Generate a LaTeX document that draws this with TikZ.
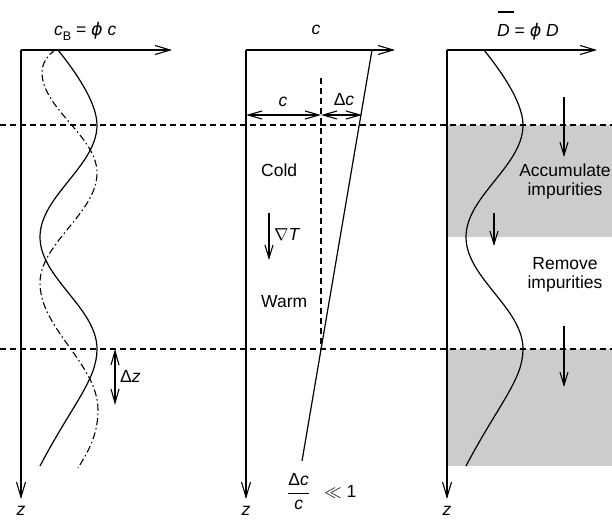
\documentclass[tikz,border=0pt]{standalone}
\usepackage{fontspec}
\setmainfont{Liberation Sans}
\newfontfamily\dvfont{DejaVu Sans}
\usetikzlibrary{arrows.meta}
\definecolor{grayfill}{RGB}{204,204,204}
\newcommand{\myphi}{{\dvfont\itshape ϕ}}
\begin{document}
\begin{tikzpicture}[x=1pt,y=-1pt,
  font=\fontsize{17.5}{19}\selectfont,
  axis/.style={line width=1.3pt,-{Straight Barb[length=15pt,width=9pt,line width=1.1pt]}},
  arr/.style={line width=1.2pt,-{Straight Barb[length=13pt,width=8pt,line width=1.1pt]}},
  darr/.style={line width=1.2pt,{Straight Barb[length=14pt,width=8pt,line width=1.1pt]}-{Straight Barb[length=14pt,width=8pt,line width=1.1pt]}},
  curve/.style={line width=1.2pt},
  dashdot/.style={line width=1.1pt,dash pattern=on 7pt off 3pt on 1.5pt off 3pt},
  dashline/.style={line width=1.1pt,dash pattern=on 6pt off 4pt},
  lbl/.style={anchor=base west,inner sep=0pt},
  zlbl/.style={anchor=base,inner sep=0pt}]
\useasboundingbox (0,0) rectangle (612,519);

% shading (panel 3)
\fill[grayfill] (447,125) rectangle (612,237);
\fill[grayfill] (447,349) rectangle (612,466);

% dashed horizontal lines
\coordinate (h1l) at (0,125); \coordinate (h1r) at (612,125);
\coordinate (h2l) at (0,349); \coordinate (h2r) at (612,349);
\draw[dashline] (h1l) -- (h1r);
\draw[dashline] (h2l) -- (h2r);

% ---------- panel 1 ----------
\coordinate (o1) at (21,50); \coordinate (x1) at (172,50); \coordinate (z1) at (21,499);
\draw[axis] (o1) -- (x1);
\draw[axis] (o1) -- (z1);
\node[lbl] (lb1) at (54,36) {\itshape c\/\upshape\raisebox{-4.5pt}{\fontsize{12.5}{12}\selectfont B} = \myphi\ {\itshape c}};
\node[zlbl] (zl1) at (21,515) {\itshape z};
\draw[curve] (58,50) .. controls (70,65) and (97,100) .. (97,125)
  .. controls (97,166) and (40,196) .. (40,237)
  .. controls (40,278) and (97,308) .. (97,349)
  .. controls (97,380) and (72,405) .. (40,466);
\draw[dashdot] (55,50) .. controls (47,56) and (42,64) .. (42,72)
  .. controls (42,109) and (97,136) .. (97,173)
  .. controls (97,213) and (40,243) .. (40,283)
  .. controls (40,329) and (98,364) .. (98,410)
  .. controls (98,435) and (88,452) .. (78,468);
\coordinate (dza) at (115,349); \coordinate (dzb) at (115,405);
\draw[darr] (dza) -- (dzb);
\node[lbl] (dz) at (120,382) {Δ\itshape z};

% ---------- panel 2 ----------
\coordinate (o2) at (246,50); \coordinate (x2) at (395,50); \coordinate (z2) at (246,499);
\draw[axis] (o2) -- (x2);
\draw[axis] (o2) -- (z2);
\node[anchor=base] (lb2) at (316,35) {\itshape c};
\node[zlbl] (zl2) at (246,515) {\itshape z};
\coordinate (sa) at (372,50); \coordinate (sb) at (302,461);
\draw[curve] (sa) -- (sb);
\coordinate (va) at (321,78); \coordinate (vb) at (321,349);
\draw[dashline] (va) -- (vb);
\coordinate (ca) at (246,115); \coordinate (cb) at (321,115); \coordinate (cc) at (362,115);
\draw[darr] (ca) -- (cb);
\draw[darr] (cb) -- (cc);
\node[anchor=base] (cl) at (283,106) {\itshape c};
\node[anchor=base] (dcl) at (344,105) {Δ\itshape c};
\node[lbl] (cold) at (261,176) {Cold};
\node[lbl] (warm) at (261,307) {Warm};
\coordinate (gta) at (269,213); \coordinate (gtb) at (269,260);
\draw[arr] (gta) -- (gtb);
\node[lbl] (gt) at (274,240) {$\nabla$\itshape T};
\node[lbl] (frac) at (287,497.5) {$\displaystyle\frac{\hbox{Δ\itshape c}}{\hbox{\itshape c}}\;\;\ll\hbox{1}$};

% ---------- panel 3 ----------
\coordinate (o3) at (447,50); \coordinate (x3) at (597,50); \coordinate (z3) at (447,499);
\draw[axis] (o3) -- (x3);
\draw[axis] (o3) -- (z3);
\node[lbl] (lb3) at (497,37) {\rlap{\hspace{1pt}\rule[24pt]{16pt}{2.2pt}}{\itshape D} = \myphi\ {\itshape D}};
\node[zlbl] (zl3) at (447,515) {\itshape z};
\draw[curve] (484,50) .. controls (496,65) and (523,100) .. (523,125)
  .. controls (523,166) and (466,196) .. (466,237)
  .. controls (466,278) and (523,308) .. (523,349)
  .. controls (523,380) and (498,405) .. (466,466);
\coordinate (a1a) at (564,97); \coordinate (a1b) at (564,157);
\coordinate (a2a) at (494,213); \coordinate (a2b) at (494,246);
\coordinate (a3a) at (564,326); \coordinate (a3b) at (564,387);
\draw[arr] (a1a) -- (a1b);
\draw[arr] (a2a) -- (a2b);
\draw[arr] (a3a) -- (a3b);
\node[anchor=base,align=center,inner sep=0pt] (acc) at (565,195) {Accumulate\\impurities};
\node[anchor=base,align=center,inner sep=0pt] (rem) at (565,288) {Remove\\impurities};
\end{tikzpicture}
\end{document}
